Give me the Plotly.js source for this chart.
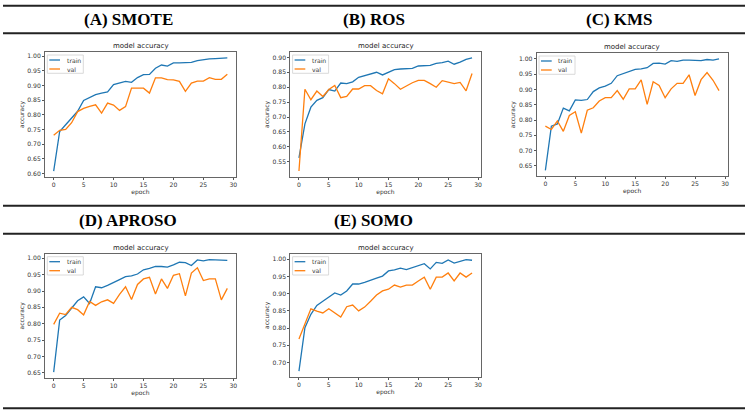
<!DOCTYPE html>
<html><head><meta charset="utf-8">
<script src="https://cdn.plot.ly/plotly-3.0.1.min.js"></script>
<style>html,body{margin:0;padding:0;background:#fff}#chart{width:746px;height:413px}</style>
</head><body><div id="chart"></div>
<script>
const epochs = [0,1,2,3,4,5,6,7,8,9,10,11,12,13,14,15,16,17,18,19,20,21,22,23,24,25,26,27,28,29];
const panelTitles = ['(A) SMOTE', '(B) ROS', '(C) KMS', '(D) APROSO', '(E) SOMO'];
const seriesNames = ['train', 'val'];

const smoteTrain = [0.608,0.743,0.766,0.789,0.812,0.849,0.858,0.869,0.874,0.878,0.903,0.908,0.914,0.911,0.927,0.937,0.938,0.959,0.970,0.966,0.977,0.977,0.978,0.979,0.985,0.989,0.991,0.992,0.993,0.994];
const smoteVal   = [0.730,0.747,0.750,0.773,0.811,0.822,0.829,0.834,0.806,0.840,0.833,0.815,0.828,0.891,0.891,0.891,0.874,0.926,0.926,0.920,0.919,0.914,0.880,0.908,0.915,0.915,0.927,0.921,0.921,0.938];

const rosTrain = [0.563,0.677,0.733,0.756,0.765,0.792,0.787,0.814,0.812,0.818,0.833,0.838,0.843,0.850,0.841,0.851,0.859,0.861,0.863,0.863,0.871,0.872,0.873,0.880,0.882,0.887,0.877,0.884,0.893,0.898];
const rosVal   = [0.519,0.793,0.758,0.787,0.769,0.792,0.806,0.765,0.769,0.794,0.794,0.805,0.805,0.789,0.778,0.828,0.812,0.793,0.804,0.815,0.823,0.823,0.812,0.800,0.822,0.816,0.812,0.816,0.788,0.846];

const kmsTrain = [0.635,0.780,0.787,0.839,0.830,0.866,0.864,0.867,0.893,0.905,0.911,0.920,0.945,0.952,0.957,0.966,0.967,0.971,0.985,0.986,0.983,0.994,0.992,0.996,0.996,0.995,0.994,0.998,0.996,1.000];
const kmsVal   = [0.780,0.769,0.797,0.763,0.815,0.827,0.757,0.832,0.840,0.862,0.873,0.873,0.896,0.868,0.902,0.902,0.931,0.851,0.925,0.913,0.873,0.902,0.920,0.920,0.948,0.880,0.932,0.955,0.930,0.896];

const aprosoTrain = [0.652,0.811,0.825,0.847,0.870,0.882,0.862,0.913,0.910,0.917,0.927,0.935,0.944,0.946,0.952,0.965,0.969,0.975,0.975,0.973,0.980,0.988,0.987,0.978,0.995,0.992,0.996,0.996,0.994,0.994];
const aprosoVal   = [0.798,0.832,0.828,0.850,0.843,0.827,0.868,0.856,0.867,0.873,0.862,0.890,0.913,0.874,0.920,0.937,0.942,0.891,0.937,0.908,0.948,0.953,0.885,0.955,0.971,0.932,0.937,0.937,0.873,0.908];

const somoTrain = [0.675,0.801,0.840,0.866,0.878,0.890,0.902,0.896,0.908,0.928,0.928,0.933,0.938,0.945,0.951,0.966,0.969,0.974,0.970,0.976,0.983,0.987,0.972,0.991,0.988,0.998,0.989,0.994,0.999,0.997];
const somoVal   = [0.768,0.812,0.856,0.849,0.844,0.856,0.843,0.832,0.862,0.867,0.850,0.861,0.878,0.896,0.908,0.913,0.925,0.919,0.925,0.925,0.937,0.948,0.913,0.948,0.948,0.960,0.937,0.960,0.948,0.960];

const panels = [
  {title: panelTitles[0], train: smoteTrain, val: smoteVal},
  {title: panelTitles[1], train: rosTrain, val: rosVal},
  {title: panelTitles[2], train: kmsTrain, val: kmsVal},
  {title: panelTitles[3], train: aprosoTrain, val: aprosoVal},
  {title: panelTitles[4], train: somoTrain, val: somoVal}
];

// layout geometry (pixels)
const W = 746, H = 413;
const boxes = [
  {l:45,    r:236,   t:52.3, b:176.7, hx:128},
  {l:290.3, r:480.7, t:52.3, b:176.7, hx:374},
  {l:536.7, r:727.7, t:53.3, b:176.0, hx:619},
  {l:45,    r:236,   t:254,  b:377.7, hx:128},
  {l:290.3, r:480.7, t:254,  b:376.7, hx:373}
];
const headerY = [20, 20, 20, 220, 220];
const ruleY = [5.8, 33.3, 205.7, 233.8, 408.3];

const trainColor = '#1f77b4', valColor = '#ff7f0e';
const tickFont = {family: 'DejaVu Sans', size: 6.1, color: '#333'};
const labelFont = {family: 'DejaVu Sans', size: 6, color: '#333'};

const data = [];
const layout = {
  width: W, height: H,
  margin: {l:0, r:0, t:0, b:0},
  paper_bgcolor: '#fff', plot_bgcolor: '#fff',
  showlegend: false,
  annotations: [], shapes: []
};

panels.forEach((p, i) => {
  const k = i === 0 ? '' : String(i + 1);
  const bx = boxes[i];
  data.push({x: epochs, y: p.train, type: 'scatter', mode: 'lines', name: seriesNames[0],
    line: {color: trainColor, width: 1.3}, xaxis: 'x' + k, yaxis: 'y' + k});
  data.push({x: epochs, y: p.val, type: 'scatter', mode: 'lines', name: seriesNames[1],
    line: {color: valColor, width: 1.3}, xaxis: 'x' + k, yaxis: 'y' + k});

  const all = p.train.concat(p.val);
  const mn = Math.min(...all), mx = Math.max(...all), sp = mx - mn;
  const xmn = Math.min(...epochs), xmx = Math.max(...epochs), xsp = xmx - xmn;

  const common = {
    showline: true, mirror: true, linecolor: '#666', linewidth: 1,
    ticks: 'outside', ticklen: 2, tickwidth: 1, tickcolor: '#555',
    showgrid: false, zeroline: false, tickfont: tickFont, automargin: false
  };
  layout['xaxis' + k] = Object.assign({}, common, {
    domain: [bx.l / W, bx.r / W], anchor: 'y' + k,
    range: [xmn - 0.05 * xsp, xmx + 0.05 * xsp], tick0: 0, dtick: 5,
    title: {text: 'epoch', font: labelFont, standoff: 2}
  });
  layout['yaxis' + k] = Object.assign({}, common, {
    domain: [1 - bx.b / H, 1 - bx.t / H], anchor: 'x' + k,
    range: [mn - 0.05 * sp, mx + 0.05 * sp], tick0: 0, dtick: 0.05, tickformat: '.2f',
    title: {text: 'accuracy', font: labelFont, standoff: 2}
  });

  // subplot title
  layout.annotations.push({
    text: 'model accuracy', xref: 'x' + k + ' domain', yref: 'y' + k + ' domain',
    x: 0.5, y: 1, xanchor: 'center', yanchor: 'bottom', yshift: 0.5, showarrow: false,
    font: {family: 'DejaVu Sans', size: 7, color: '#222'}
  });
  // panel header
  layout.annotations.push({
    text: '<b>' + p.title + '</b>', xref: 'paper', yref: 'paper',
    x: bx.hx / W, y: 1 - headerY[i] / H, xanchor: 'center', yanchor: 'middle', showarrow: false,
    font: {family: 'Liberation Serif', size: 17, color: '#000'}
  });

  // legend (drawn inside each panel, upper left)
  const pw = bx.r - bx.l, ph = bx.b - bx.t;
  const fx = v => v / pw, fy = v => 1 - v / ph;
  const xr = 'x' + k + ' domain', yr = 'y' + k + ' domain';
  layout.shapes.push({type: 'rect', xref: xr, yref: yr, x0: fx(2.3), x1: fx(38.3), y0: fy(2.7), y1: fy(21),
    line: {color: '#d0d0d0', width: 0.8}, fillcolor: 'rgba(255,255,255,0.8)', layer: 'above'});
  [[trainColor, 7.7, seriesNames[0]], [valColor, 16.7, seriesNames[1]]].forEach(([c, yy, nm]) => {
    layout.shapes.push({type: 'line', xref: xr, yref: yr, x0: fx(4.3), x1: fx(15), y0: fy(yy), y1: fy(yy),
      line: {color: c, width: 1.3}, layer: 'above'});
    layout.annotations.push({text: nm, xref: xr, yref: yr, x: fx(19.5), y: fy(yy), xanchor: 'left', yanchor: 'middle',
      showarrow: false, font: tickFont});
  });
});

ruleY.forEach(y => {
  layout.shapes.push({type: 'line', xref: 'paper', yref: 'paper', x0: 3 / W, x1: 745 / W, y0: 1 - y / H, y1: 1 - y / H,
    line: {color: '#222', width: 2}});
});

Plotly.newPlot('chart', data, layout, {displayModeBar: false, staticPlot: true});
</script>
</body></html>
